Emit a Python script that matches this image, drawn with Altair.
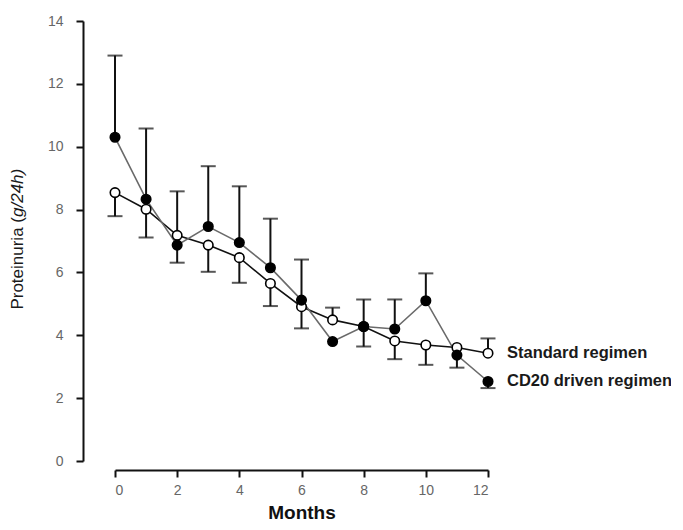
import altair as alt
import pandas as pd

# ---- data ----
months = list(range(13))
series_names = ["Standard regimen", "CD20 driven regimen"]

standard = [8.54, 8.01, 7.18, 6.87, 6.47, 5.65, 4.91, 4.49, 4.28, 3.82, 3.69, 3.61, 3.43]
standard_err_up = [None, None, None, None, None, None, None, 4.88, None, None, None, None, 3.90]
standard_err_down = [7.79, 7.11, 6.31, 6.02, 5.67, 4.93, 4.22, None, 3.64, 3.24, 3.06, None, None]

cd20 = [10.30, 8.33, 6.87, 7.46, 6.95, 6.15, 5.12, 3.80, 4.28, 4.20, 5.10, 3.37, 2.53]
cd20_err_up = [12.90, 10.58, 8.58, 9.38, 8.74, 7.71, 6.41, None, 5.14, 5.14, 5.97, None, None]
cd20_err_down = [None, None, None, None, None, None, None, None, None, None, None, 2.97, 2.32]

y_ticks = [0, 2, 4, 6, 8, 10, 12, 14]

# ---- tables ----
pts = []
for name, vals in [(series_names[0], standard), (series_names[1], cd20)]:
    for m, v in zip(months, vals):
        pts.append({"month": m, "value": v, "series": name})
pts = pd.DataFrame(pts)

errs = []
for name, vals, ups, downs in [
    (series_names[0], standard, standard_err_up, standard_err_down),
    (series_names[1], cd20, cd20_err_up, cd20_err_down),
]:
    for m, v, u, d in zip(months, vals, ups, downs):
        if u is not None:
            errs.append({"month": m, "value": v, "end": u, "series": name})
        if d is not None:
            errs.append({"month": m, "value": v, "end": d, "series": name})
errs = pd.DataFrame(errs)

last = pts[pts["month"] == months[-1]].copy()
last["dy"] = [-4, 1]

FONT = "Liberation Sans"

xscale = alt.Scale(domain=[0, 12], nice=False, zero=False)
yscale = alt.Scale(domain=[0, 14], nice=False)

x_axis = alt.Axis(
    values=months,
    labelExpr="datum.value % 2 == 0 ? datum.label : ''",
    offset=9, tickSize=7, tickWidth=2, tickColor="#111",
    domainWidth=2, domainColor="#111",
    labelFontSize=14, labelColor="#666", labelFont=FONT, labelPadding=6,
    title="Months", titleFontSize=19, titleFont=FONT, titleFontWeight="bold",
    titleColor="#111", titlePadding=6, grid=False,
)
y_axis = alt.Axis(
    values=y_ticks, offset=32, tickSize=7, tickWidth=2, tickColor="#111",
    domainWidth=2, domainColor="#111",
    labelFontSize=14, labelColor="#666", labelFont=FONT, labelPadding=13,
    title=None, grid=False,
)

color_scale = alt.Scale(domain=series_names, range=["#111111", "#6a6a6a"])

base_x = alt.X("month:Q", scale=xscale, axis=x_axis)

rules = alt.Chart(errs).mark_rule(color="#111", strokeWidth=2).encode(
    x=base_x,
    y=alt.Y("value:Q", scale=yscale, axis=y_axis),
    y2="end:Q",
)
caps = alt.Chart(errs).mark_tick(color="#111", orient="horizontal", size=15, thickness=2).encode(
    x=alt.X("month:Q", scale=xscale),
    y=alt.Y("end:Q", scale=yscale),
)

lines = alt.Chart(pts).mark_line(strokeWidth=1.6).encode(
    x=alt.X("month:Q", scale=xscale),
    y=alt.Y("value:Q", scale=yscale),
    color=alt.Color("series:N", scale=color_scale, legend=None),
    order="month:Q",
)

points = alt.Chart(pts).mark_point(filled=False, size=90, strokeWidth=1.6, opacity=1).encode(
    x=alt.X("month:Q", scale=xscale),
    y=alt.Y("value:Q", scale=yscale),
    fill=alt.Fill("series:N", scale=alt.Scale(domain=series_names, range=["white", "black"]), legend=None),
    stroke=alt.value("black"),
)

labels = alt.Chart(last).mark_text(
    align="left", baseline="middle", dx=19, fontSize=16.5, fontWeight="bold", font=FONT, color="#1a1a1a"
).encode(
    x=alt.X("month:Q", scale=xscale),
    y=alt.Y("value:Q", scale=yscale),
    yOffset="dy:Q",
    text="series:N",
)

ytitle_a = alt.Chart(pd.DataFrame({"t": ["Proteinuria ("]})).mark_text(
    angle=270, align="right", baseline="middle", fontSize=17, font=FONT, color="#1a1a1a"
).encode(x=alt.value(-97), y=alt.value(196), text="t:N")
ytitle_b = alt.Chart(pd.DataFrame({"t": ["g/24h)"]})).mark_text(
    angle=270, align="left", baseline="middle", fontSize=17, font=FONT, fontStyle="italic", color="#1a1a1a"
).encode(x=alt.value(-97), y=alt.value(196), text="t:N")

chart = alt.layer(rules, caps, lines, points, labels, ytitle_a, ytitle_b).properties(
    width=373, height=440,
    autosize=alt.AutoSizeParams(type="none"),
    padding={"left": 107, "top": 13, "right": 183, "bottom": 61},
).configure_view(stroke=None)

chart.save("out.html", embed_options={"renderer": "svg", "actions": False})
